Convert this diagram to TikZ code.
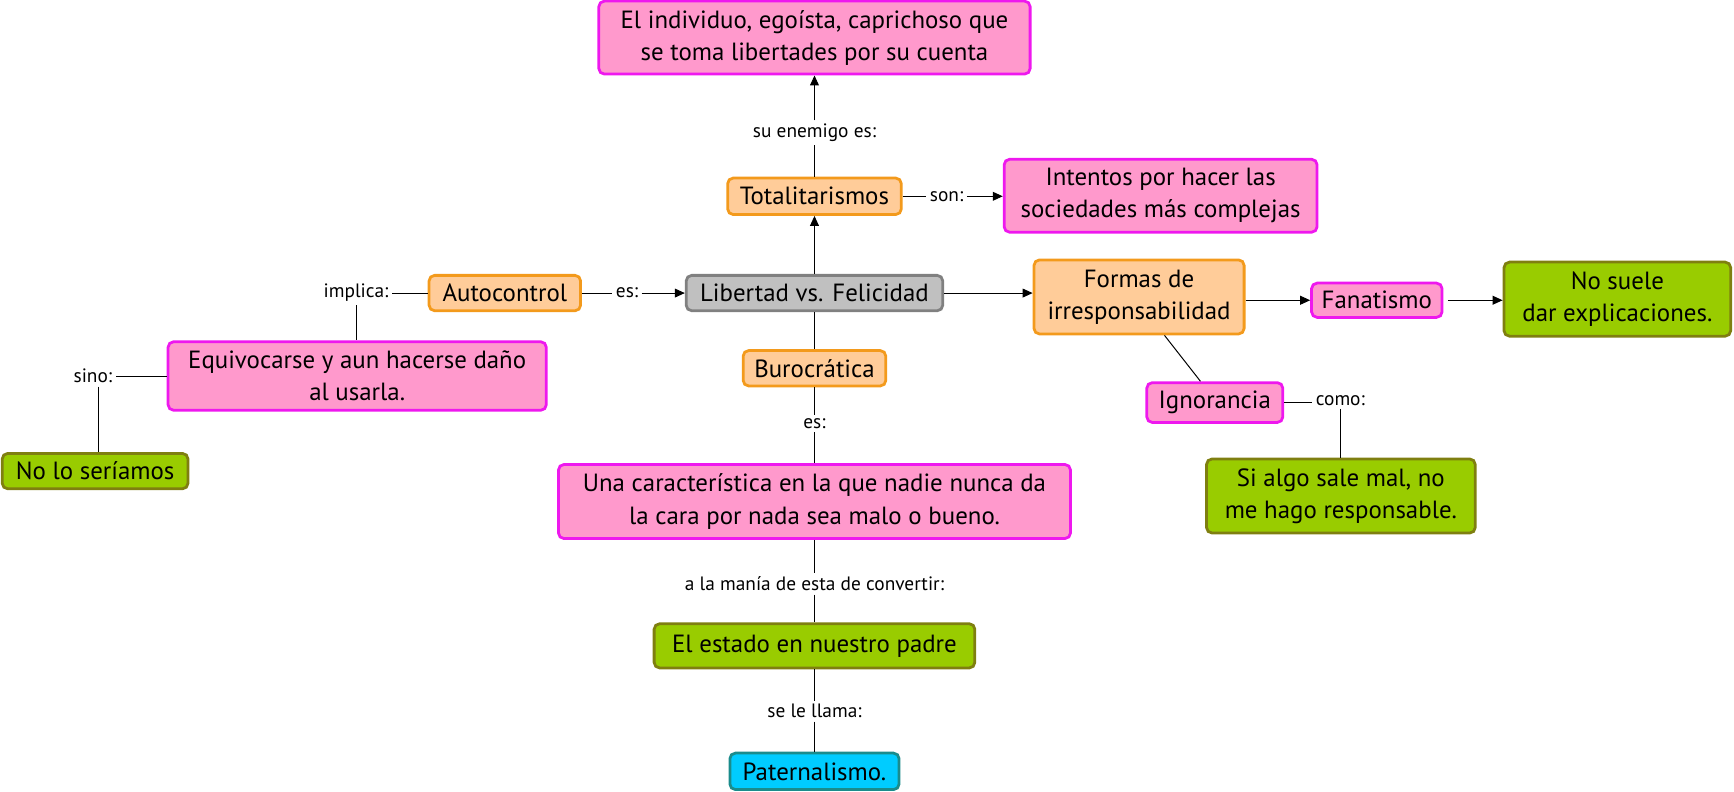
\documentclass[tikz,border=0pt]{standalone}
\usepackage{fontspec}
\setmainfont{PT Sans}
\usetikzlibrary{arrows.meta}

\definecolor{pinkfill}{HTML}{FF99CC}
\definecolor{pinkline}{HTML}{EE18EE}
\definecolor{orangefill}{HTML}{FFCC99}
\definecolor{orangeline}{HTML}{F39A1C}
\definecolor{greenfill}{HTML}{99CC00}
\definecolor{greenline}{HTML}{7F7F10}
\definecolor{grayfill}{HTML}{C0C0C0}
\definecolor{grayline}{HTML}{808080}
\definecolor{cyanfill}{HTML}{00CCFF}
\definecolor{cyanline}{HTML}{1A8C8C}

\begin{document}
\begin{tikzpicture}[x=1pt, y=-1pt,
    concept/.style={draw, rounded corners=5pt, line width=2.5pt, align=center,
        inner sep=1pt, font=\fontsize{22.5}{29}\selectfont},
    pinkbox/.style={concept, fill=pinkfill, draw=pinkline},
    orangebox/.style={concept, fill=orangefill, draw=orangeline},
    greenbox/.style={concept, fill=greenfill, draw=greenline},
    graybox/.style={concept, fill=grayfill, draw=grayline},
    cyanbox/.style={concept, fill=cyanfill, draw=cyanline},
    linklabel/.style={inner sep=3pt, font=\fontsize{17.5}{20}\selectfont},
    link/.style={line width=0.9pt},
    arrowlink/.style={link, -{Triangle[length=9pt, width=8pt]}}]

    % Fix the size of the picture
    \useasboundingbox (0,0) rectangle (1568,716);

    % Draw the central concept
    \node[graybox, minimum width=232pt, minimum height=32pt] at (736.5, 265) (libertad) {Libertad vs. Felicidad};

    % Draw the upper branch
    \node[orangebox, minimum width=157pt, minimum height=33pt] at (736.5, 177.5) (totalit) {Totalitarismos};
    \node[pinkbox, minimum width=390pt, minimum height=66pt] at (736.5, 34) (individuo) {El individuo, egoísta, caprichoso que\\ se toma libertades por su cuenta};
    \node[pinkbox, minimum width=283pt, minimum height=66pt] at (1049.5, 177) (intentos) {Intentos por hacer las\\ sociedades más complejas};
    \node[linklabel] at (736.5, 120) (enemigo) {su enemigo es:};
    \node[linklabel] at (856, 177.5) (son) {son:};

    \draw[arrowlink] (libertad.north) -- (totalit.south);
    \draw[link] (totalit.north) -- (enemigo.south);
    \draw[arrowlink] (enemigo.north) -- (individuo.south);
    \draw[link] (totalit.east) -- (son.west);
    \draw[arrowlink] (son.east) -- (intentos.west |- son.east);

    % Draw the left branch
    \node[orangebox, minimum width=137pt, minimum height=32pt] at (456.5, 265) (autocontrol) {Autocontrol};
    \node[pinkbox, minimum width=342pt, minimum height=62pt] at (323, 340) (equivocarse) {Equivocarse y aun hacerse daño\\ al usarla.};
    \node[greenbox, minimum width=168pt, minimum height=32pt] at (86, 426) (seriamos) {No lo seríamos};
    \node[linklabel] at (567, 265) (esauto) {es:};
    \node[linklabel] at (322, 265) (implica) {implica:};
    \node[linklabel] at (84, 340) (sino) {sino:};

    \draw[link] (autocontrol.east) -- (esauto.west);
    \draw[arrowlink] (esauto.east) -- (libertad.west);
    \draw[link] (autocontrol.west) -- (implica.east);
    \draw[link] (implica.south) -- (implica.south |- equivocarse.north);
    \draw[link] (equivocarse.west) -- (sino.east);
    \draw[link] ([xshift=5pt]sino.south) -- ([xshift=5pt]sino.south |- seriamos.north);

    % Draw the lower branch
    \node[orangebox, minimum width=129pt, minimum height=32pt] at (736.5, 333) (burocratica) {Burocrática};
    \node[pinkbox, minimum width=463pt, minimum height=67pt] at (736.5, 453.5) (caracteristica) {Una característica en la que nadie nunca da\\ la cara por nada sea malo o bueno.};
    \node[greenbox, minimum width=290pt, minimum height=40pt] at (736.5, 584) (estado) {El estado en nuestro padre};
    \node[cyanbox, minimum width=153pt, minimum height=33pt] at (736.5, 697.5) (paternalismo) {Paternalismo.};
    \node[linklabel] at (736.5, 383) (esburo) {es:};
    \node[linklabel] at (736.5, 528) (mania) {a la manía de esta de convertir:};
    \node[linklabel] at (736.5, 643) (llama) {se le llama:};

    \draw[link] (libertad.south) -- (burocratica.north);
    \draw[link] (burocratica.south) -- (esburo.north);
    \draw[link] (esburo.south) -- (caracteristica.north);
    \draw[link] (caracteristica.south) -- (mania.north);
    \draw[link] (mania.south) -- (estado.north);
    \draw[link] (estado.south) -- (llama.north);
    \draw[link] (llama.south) -- (paternalismo.north);

    % Draw the right branch
    \node[orangebox, minimum width=190pt, minimum height=67pt] at (1030, 268.5) (formas) {Formas de\\ irresponsabilidad};
    \node[pinkbox, minimum width=118pt, minimum height=31pt] at (1245, 271.5) (fanatismo) {Fanatismo};
    \node[greenbox, minimum width=205pt, minimum height=67pt] at (1462.5, 270.5) (explicaciones) {No suele\\ dar explicaciones.};
    \node[pinkbox, minimum width=123pt, minimum height=36pt] at (1098.5, 364) (ignorancia) {Ignorancia};
    \node[greenbox, minimum width=243pt, minimum height=67pt] at (1212.5, 448.5) (responsable) {Si algo sale mal, no\\ me hago responsable.};
    \node[linklabel] at (1212, 362) (como) {como:};

    \draw[arrowlink] (libertad.east) -- (formas.west |- libertad.east);
    \draw[arrowlink] (formas.east |- fanatismo.west) -- (fanatismo.west);
    \draw[arrowlink] ([xshift=4pt]fanatismo.east) -- (explicaciones.west |- fanatismo.east);
    \draw[link] ([xshift=23pt]formas.south) -- ([xshift=-13pt]ignorancia.north);
    \draw[link] (ignorancia.east) -- (como.west |- ignorancia.east);
    \draw[link] (como.south) -- (como.south |- responsable.north);

\end{tikzpicture}
\end{document}
